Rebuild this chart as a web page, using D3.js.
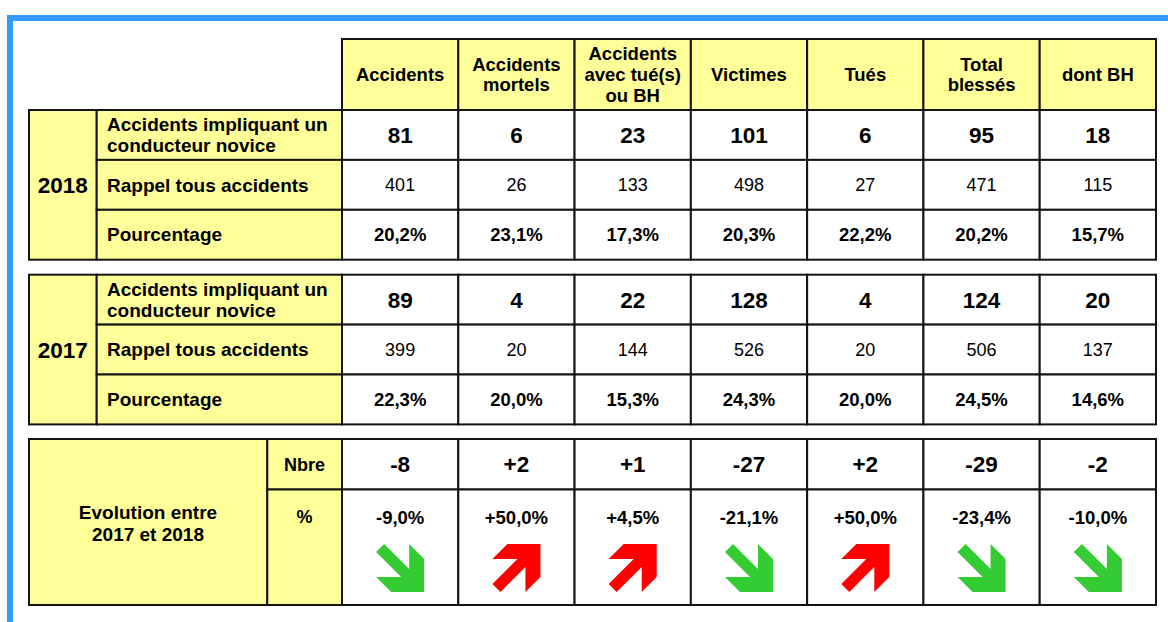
<!DOCTYPE html>
<html>
<head>
<meta charset="utf-8">
<script src="https://cdn.jsdelivr.net/npm/d3@7"></script>
<style>
    body { margin: 0; background: #fff; }
    svg { display: block; font-family: "Liberation Sans", Arial, sans-serif; }
</style>
</head>
<body>
<svg id="chart"></svg>
<script>
// column headers (one entry per line)
const columns = [["Accidents"], ["Accidents", "mortels"], ["Accidents", "avec tué(s)", "ou BH"],
    ["Victimes"], ["Tués"], ["Total", "blessés"], ["dont BH"]];
const rowLabels = [["Accidents impliquant un", "conducteur novice"], ["Rappel tous accidents"], ["Pourcentage"]];
const years = ["2018", "2017"];

const novice2018 = [81, 6, 23, 101, 6, 95, 18];
const total2018 = [401, 26, 133, 498, 27, 471, 115];
const pct2018 = [20.2, 23.1, 17.3, 20.3, 22.2, 20.2, 15.7];

const novice2017 = [89, 4, 22, 128, 4, 124, 20];
const total2017 = [399, 20, 144, 526, 20, 506, 137];
const pct2017 = [22.3, 20.0, 15.3, 24.3, 20.0, 24.5, 14.6];

const evolNbre = [-8, 2, 1, -27, 2, -29, -2];
const evolPct = [-9.0, 50.0, 4.5, -21.1, 50.0, -23.4, -10.0];

const width = 1168;
const height = 622;
const yellow = "#ffff99";
const line = "#141414";
const font = "\"Liberation Sans\", Arial, sans-serif";

const svg = d3.select("#chart")
    .attr("width", width)
    .attr("height", height)
    .attr("viewBox", [0, 0, width, height]);

// blue frame (top + left)
svg.append("rect").attr("x", 7).attr("y", 15).attr("width", width - 7).attr("height", 6).attr("fill", "#3399ff");
svg.append("rect").attr("x", 7).attr("y", 15).attr("width", 6).attr("height", height - 15).attr("fill", "#3399ff");

const x = d3.scaleBand().domain(d3.range(columns.length)).range([342, 1156]);
const yearX = [29, 96.7];
const labelX = [96.7, 342];

const fmtPct = v => d3.format(".1f")(Math.abs(v)).replace(".", ",") + "%";
const signed = v => (v > 0 ? "+" : v < 0 ? "-" : "") + Math.abs(v);
const signedPct = v => (v > 0 ? "+" : v < 0 ? "-" : "") + fmtPct(v);

function cell(x0, y0, x1, y1, fill) {
    svg.append("rect")
        .attr("x", x0).attr("y", y0)
        .attr("width", x1 - x0).attr("height", y1 - y0)
        .attr("fill", fill)
        .attr("stroke", line)
        .attr("stroke-width", 2);
}

function label(lines, cx, cy, size, opts = {}) {
    const lh = opts.lh || size * 1.1;
    const t = svg.append("text")
        .attr("text-anchor", opts.anchor || "middle")
        .style("font-family", font)
        .style("font-size", size + "px")
        .style("font-weight", opts.weight || "bold")
        .attr("fill", "#000");
    lines.forEach((s, i) => {
        t.append("tspan")
            .attr("x", cx)
            .attr("y", cy + (i - (lines.length - 1) / 2) * lh + size * 0.355)
            .text(s);
    });
}

// header row
const headTop = 39, headBottom = 110;
columns.forEach((c, i) => {
    cell(x(i), headTop, x(i) + x.bandwidth(), headBottom, yellow);
    label(c, x(i) + x.bandwidth() / 2, (headTop + headBottom) / 2, 18.5, {lh: 20.7});
});

// year sections
const sections = [
    {year: years[0], top: 110, rows: [novice2018, total2018, pct2018]},
    {year: years[1], top: 274.7, rows: [novice2017, total2017, pct2017]}
];

sections.forEach(sec => {
    const y = d3.scaleBand().domain([0, 1, 2]).range([sec.top, sec.top + 149.7]);
    cell(yearX[0], sec.top, yearX[1], sec.top + 149.7, yellow);
    label([sec.year], (yearX[0] + yearX[1]) / 2, sec.top + 149.7 / 2, 22.5);
    rowLabels.forEach((r, j) => {
        cell(labelX[0], y(j), labelX[1], y(j) + y.bandwidth(), yellow);
        label(r, 107, y(j) + y.bandwidth() / 2, 19, {anchor: "start", lh: 20.7});
    });
    sec.rows.forEach((vals, j) => {
        vals.forEach((v, i) => {
            cell(x(i), y(j), x(i) + x.bandwidth(), y(j) + y.bandwidth(), "#fff");
            const cx = x(i) + x.bandwidth() / 2;
            const cy = y(j) + y.bandwidth() / 2;
            if (j === 0) label([String(v)], cx, cy, 22.5);
            else if (j === 1) label([String(v)], cx, cy, 18, {weight: "normal"});
            else label([fmtPct(v)], cx, cy, 18.5);
        });
    });
});

// evolution section
const evTop = 439, evMid = 489.5, evBottom = 605;
cell(29, evTop, 267.3, evBottom, yellow);
label(["Evolution entre", "2017 et 2018"], 148, 523, 19, {lh: 22});
cell(267.3, evTop, 342, evMid, yellow);
label(["Nbre"], 304.6, (evTop + evMid) / 2, 18);
cell(267.3, evMid, 342, evBottom, yellow);
label(["%"], 304.6, evMid + 27.5, 18);

// arrow pointing down-right in a 48px box; flipped vertically for up-right
const arrowPts = [[8, 0], [0, 8], [25, 33], [0, 33], [15, 48], [48, 48], [48, 15], [33, 0], [33, 25]];
const arrowSize = 48;

evolNbre.forEach((v, i) => {
    const cx = x(i) + x.bandwidth() / 2;
    cell(x(i), evTop, x(i) + x.bandwidth(), evMid, "#fff");
    label([signed(v)], cx, (evTop + evMid) / 2, 22.5);
    cell(x(i), evMid, x(i) + x.bandwidth(), evBottom, "#fff");
    label([signedPct(evolPct[i])], cx, evMid + 27.5, 18.5);

    const up = evolPct[i] > 0;
    const pts = arrowPts.map(([px, py]) => [
        cx - arrowSize / 2 + px,
        568 - arrowSize / 2 + (up ? arrowSize - py : py)
    ]);
    svg.append("path")
        .attr("d", d3.line()(pts) + "Z")
        .attr("fill", up ? "#ff0000" : "#33cc33");
});
</script>
</body>
</html>
